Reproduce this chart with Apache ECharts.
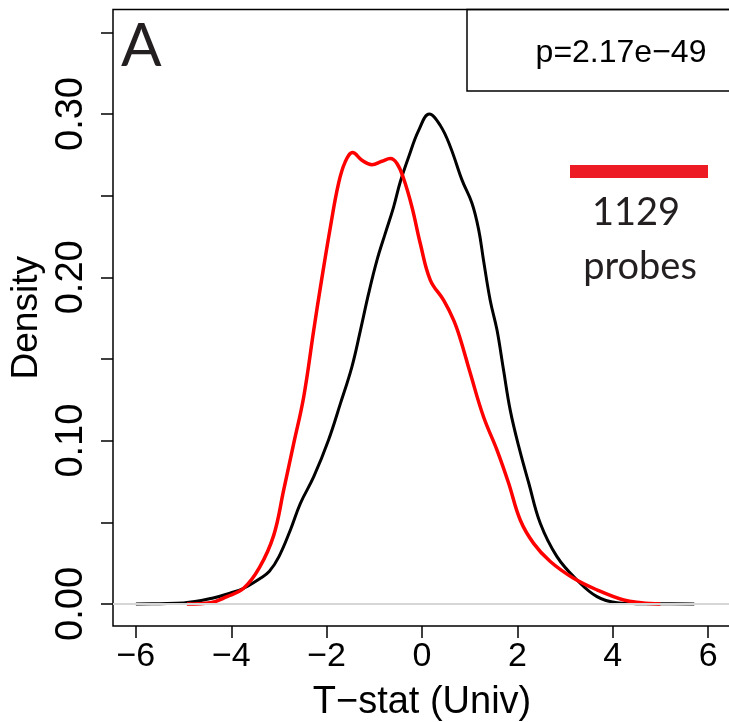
<!DOCTYPE html>
<html>
<head>
<meta charset="UTF-8">
<title>Density</title>
<script src="https://cdn.jsdelivr.net/npm/echarts@6/dist/echarts.min.js"></script>
<style>
  html, body { margin: 0; padding: 0; background: #fff; }
</style>
</head>
<body>
    <div id="main" style="width: 729px;height:722px;"></div>

    <script type="text/javascript">
    // black curve (all probes)
    var blackX = [-6.0, -5.5, -5.0, -4.4, -4.0, -3.74, -3.39, -3.2, -3.0, -2.76, -2.55, -2.27, -1.96, -1.71, -1.47, -1.29,
                  -1.12, -0.944, -0.77, -0.596, -0.455, -0.28, -0.07, 0.153, 0.384, 0.594, 0.84, 1.05, 1.19, 1.29,
                  1.43, 1.573, 1.71, 1.85, 2.03, 2.24, 2.48, 2.83, 3.25, 3.67, 4.09, 4.5, 5.0, 5.71];
    var blackY = [0.0, 0.0002, 0.0006, 0.0035, 0.0069, 0.0096, 0.0157, 0.020, 0.029, 0.0453, 0.0616, 0.0779, 0.1004, 0.1228, 0.1452, 0.1677,
                  0.190, 0.2105, 0.2269, 0.243, 0.2585, 0.2737, 0.290, 0.300, 0.293, 0.280, 0.2595, 0.2452, 0.2289, 0.2105,
                  0.186, 0.1677, 0.1432, 0.1187, 0.0963, 0.0739, 0.0494, 0.029, 0.0147, 0.0045, 0.0008, 0.0002, 0.0001, 0.0];

    // red curve (1129 probes)
    var redX = [-4.93, -4.44, -4.09, -3.74, -3.41, -3.11, -2.90, -2.69, -2.48, -2.27, -2.13, -1.92, -1.75, -1.61, -1.455,
                -1.26, -1.05, -0.84, -0.665, -0.525, -0.386, -0.21, -0.036, 0.174, 0.453, 0.663, 0.80, 1.013, 1.29,
                1.573, 1.817, 2.06, 2.34, 2.69, 3.18, 3.67, 4.23, 4.6, 5.0];
    var redY = [0.0, 0.0008, 0.0045, 0.0096, 0.0222, 0.042, 0.0698, 0.0983, 0.1269, 0.1677, 0.194, 0.231, 0.2575, 0.2707, 0.2764,
                0.2717, 0.269, 0.2711, 0.2727, 0.2697, 0.2605, 0.243, 0.2207, 0.1983, 0.186, 0.1738, 0.1626, 0.1412, 0.1146,
                0.0942, 0.0739, 0.0514, 0.0371, 0.026, 0.0157, 0.0086, 0.0024, 0.0008, 0.0];

    var xTicks = [-6, -4, -2, 0, 2, 4, 6];
    var yTicks = [0, 0.05, 0.10, 0.15, 0.20, 0.25, 0.30, 0.35];
    var yLabels = [0, 0.10, 0.20, 0.30];
    var pText = 'p=2.17e\u221249';
    var nProbes = '1129';

    function pairs(xs, ys) {
        return xs.map(function (x, i) { return [x, ys[i]]; });
    }

    var myChart = echarts.init(document.getElementById('main'));

    var option = {
        animation: false,
        grid: { left: 113, top: 9.5, width: 618, height: 616.5, show: true,
                borderColor: '#000', borderWidth: 1.5, outerBoundsMode: 'none', containLabel: false },
        xAxis: {
            type: 'value', min: -6.48, max: 6.48,
            name: 'T\u2212stat (Univ)', nameLocation: 'middle', nameGap: 58,
            nameTextStyle: { fontFamily: 'Liberation Sans', fontSize: 38, color: '#000' },
            axisLine: { show: false, onZero: false },
            splitLine: { show: false },
            axisTick: { customValues: xTicks, length: 12, lineStyle: { color: '#000', width: 1.5 } },
            axisLabel: { customValues: xTicks, margin: 14, fontFamily: 'Liberation Sans', fontSize: 34, color: '#000',
                         formatter: function (v) { return v < 0 ? '\u2212' + Math.abs(v) : String(v); } }
        },
        yAxis: {
            type: 'value', min: -0.0135, max: 0.364,
            name: 'Density', nameLocation: 'middle', nameGap: 66, nameRotate: 90,
            nameTextStyle: { fontFamily: 'Liberation Sans', fontSize: 37, color: '#000' },
            axisLine: { show: false, onZero: false },
            splitLine: { show: false },
            axisTick: { customValues: yTicks, length: 12, lineStyle: { color: '#000', width: 1.5 } },
            axisLabel: { customValues: yLabels, rotate: 90, margin: 22, fontFamily: 'Liberation Sans', fontSize: 38, color: '#000',
                         formatter: function (v) { return v.toFixed(2); } }
        },
        series: [{
            name: 'baseline', type: 'line', data: [], z: 1,
            markLine: { silent: true, symbol: 'none', label: { show: false },
                        lineStyle: { color: '#d6d6d6', width: 2, type: 'solid' },
                        data: [{ yAxis: 0 }] }
        }, {
            name: 'all', type: 'line', data: pairs(blackX, blackY), z: 3,
            showSymbol: false, smooth: 0.4,
            lineStyle: { color: '#000', width: 3 }
        }, {
            name: 'probes', type: 'line', data: pairs(redX, redY), z: 4,
            showSymbol: false, smooth: 0.4,
            lineStyle: { color: '#ff0000', width: 3.5 }
        }],
        graphic: [
            { type: 'text', left: 121, top: 17,
              style: { text: 'A', fontFamily: 'Lato', fontSize: 60, fill: '#231f20' } },
            { type: 'rect', shape: { x: 467, y: 9.5, width: 280, height: 81.5 },
              style: { fill: 'none', stroke: '#000', lineWidth: 1.5 } },
            { type: 'text', x: 621, y: 53,
              style: { text: pText, fontFamily: 'Liberation Sans', fontSize: 32, fill: '#000',
                       textAlign: 'center', textVerticalAlign: 'middle' } },
            { type: 'rect', shape: { x: 570, y: 165, width: 138, height: 13 },
              style: { fill: '#ed1c24' } },
            { type: 'text', x: 636, y: 213,
              style: { text: nProbes, fontFamily: 'Lato', fontSize: 38, fill: '#231f20',
                       textAlign: 'center', textVerticalAlign: 'middle' } },
            { type: 'text', x: 640, y: 267,
              style: { text: 'probes', fontFamily: 'Lato', fontSize: 38, fill: '#231f20',
                       textAlign: 'center', textVerticalAlign: 'middle' } }
        ]
    };
    myChart.setOption(option);
    </script>
</body>
</html>
